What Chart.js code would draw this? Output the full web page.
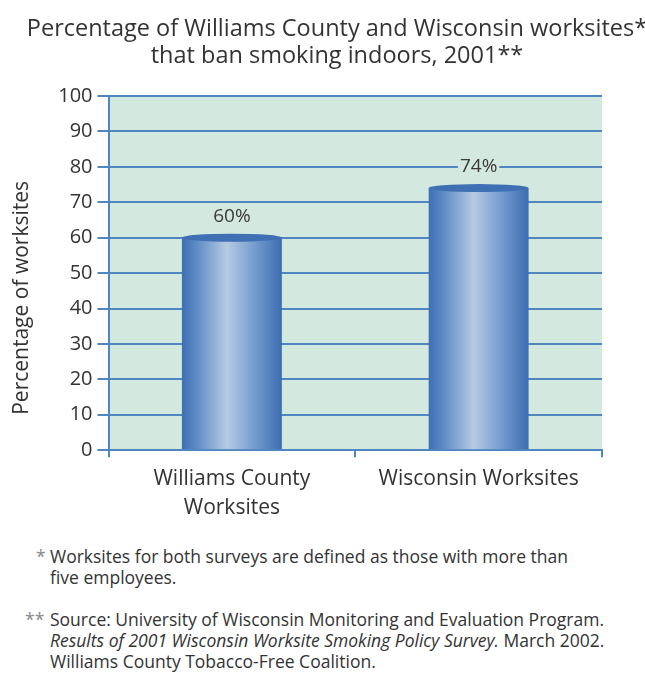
<!DOCTYPE html>
<html>
<head>
<meta charset="utf-8">
<script src="https://cdn.jsdelivr.net/npm/chart.js@4/dist/chart.umd.min.js"></script>
<style>
  body { margin: 0; background: #fff; font-family: "Open Sans", Lato, sans-serif; color: #333; }
  #wrap { width: 645px; height: 530px; position: relative; overflow: hidden; }
  #title {
    position: absolute; top: 14px; left: 337px; transform: translateX(-50%);
    text-align: center; font-size: 23.5px; line-height: 27px;
    color: #333; white-space: nowrap;
  }
  .notes { font-size: 17.5px; line-height: 21px; color: #333; }
  .note { position: relative; padding-left: 50px; white-space: nowrap; }
  .star { position: absolute; color: #888; }
</style>
</head>
<body>
<div id="wrap">
  <div id="title">Percentage of Williams County and Wisconsin worksites*<br>that ban smoking indoors, 2001**</div>
  <canvas id="chart"></canvas>
</div>
<div class="notes">
  <div class="note" style="margin-top:16px"><span class="star" style="left:36px">*</span>Worksites for both surveys are defined as those with more than<br>five employees.</div>
  <div class="note" style="margin-top:21px"><span class="star" style="left:25px">**</span>Source: University of Wisconsin Monitoring and Evaluation Program.<br><i>Results of 2001 Wisconsin Worksite Smoking Policy Survey.</i> March 2002.<br>Williams County Tobacco-Free Coalition.</div>
</div>
<script>
const categories = [["Williams County", "Worksites"], "Wisconsin Worksites"];
const percentages = [60, 74];
const yTicks = [0, 10, 20, 30, 40, 50, 60, 70, 80, 90, 100];
const yTitle = "Percentage of worksites";

const plotBg = "#d3e8df";
const lineBlue = "#4f86c0";
const fontFamily = "'Open Sans', Lato, sans-serif";

// Light green plot background
const plotBackground = {
  id: "plotBackground",
  beforeDraw(chart) {
    const { ctx, chartArea } = chart;
    ctx.save();
    ctx.fillStyle = plotBg;
    ctx.fillRect(chartArea.left, chartArea.top, chartArea.right - chartArea.left, chartArea.bottom - chartArea.top);
    ctx.restore();
  },
};

// Y title sits a bit below the middle of the axis in the original
const yTitleText = {
  id: "yTitleText",
  afterDraw(chart) {
    const { ctx, chartArea } = chart;
    ctx.save();
    ctx.translate(22, chartArea.top + (chartArea.bottom - chartArea.top) * 0.57);
    ctx.rotate(-Math.PI / 2);
    ctx.font = "21px " + fontFamily;
    ctx.fillStyle = "#333";
    ctx.textAlign = "center";
    ctx.textBaseline = "middle";
    ctx.fillText(yTitle, 0, 0);
    ctx.restore();
  },
};

// Cylinder look: gradient body, darker top cap, value label
const cylinders = {
  id: "cylinders",
  afterDatasetsDraw(chart) {
    const { ctx } = chart;
    chart.getDatasetMeta(0).data.forEach((bar, i) => {
      const left = bar.x - bar.width / 2;
      const g = ctx.createLinearGradient(left, 0, left + bar.width, 0);
      g.addColorStop(0, "#3e6fb2");
      g.addColorStop(0.15, "#5f8cc6");
      g.addColorStop(0.45, "#b6cbe2");
      g.addColorStop(0.75, "#6f98cc");
      g.addColorStop(1, "#3d6db0");
      ctx.save();
      ctx.fillStyle = g;
      ctx.fillRect(left, bar.y, bar.width, bar.base - bar.y);
      ctx.beginPath();
      ctx.ellipse(bar.x, bar.y, bar.width / 2, 4, 0, 0, Math.PI * 2);
      ctx.fillStyle = "#3f70b3";
      ctx.fill();

      const txt = percentages[i] + "%";
      ctx.font = "19px " + fontFamily;
      ctx.textAlign = "center";
      ctx.textBaseline = "middle";
      const w = ctx.measureText(txt).width;
      const ty = bar.y - 21;
      ctx.fillStyle = plotBg;
      ctx.fillRect(bar.x - w / 2 - 2, ty - 9, w + 4, 18);
      ctx.fillStyle = "#3a3a3a";
      ctx.fillText(txt, bar.x, ty);
      ctx.restore();
    });
  },
};

new Chart(document.querySelector("#chart").getContext("2d"), {
  type: "bar",
  data: {
    labels: categories,
    datasets: [
      {
        data: percentages,
        backgroundColor: "rgba(0,0,0,0)",
        borderWidth: 0,
        barPercentage: 0.405,
        categoryPercentage: 1,
      },
    ],
  },
  options: {
    responsive: true,
    maintainAspectRatio: false,
    animation: false,
    layout: { padding: { left: 20, right: 43, top: 96, bottom: 0 } },
    plugins: {
      legend: { display: false },
      tooltip: { enabled: false },
      title: { display: false },
    },
    scales: {
      x: {
        grid: {
          offset: true,
          drawOnChartArea: false,
          color: lineBlue,
          lineWidth: 2,
          tickLength: 7,
        },
        border: { color: lineBlue, width: 2 },
        ticks: {
          color: "#333",
          padding: 7,
          font: { family: fontFamily, size: 21, lineHeight: 1.4 },
        },
      },
      y: {
        min: 0,
        max: 100,
        afterBuildTicks(axis) {
          axis.ticks = yTicks.map((v) => ({ value: v }));
        },
        grid: { color: lineBlue, lineWidth: 2, tickLength: 11 },
        border: { color: lineBlue, width: 2 },
        ticks: {
          color: "#333",
          padding: 5,
          font: { family: fontFamily, size: 20 },
        },
        // space is kept here; the text itself is drawn by yTitleText
        title: {
          display: true,
          text: yTitle,
          color: "rgba(0,0,0,0)",
          padding: { top: 0, bottom: 8 },
          font: { family: fontFamily, size: 21 },
        },
      },
    },
  },
  plugins: [plotBackground, cylinders, yTitleText],
});
</script>
</body>
</html>
